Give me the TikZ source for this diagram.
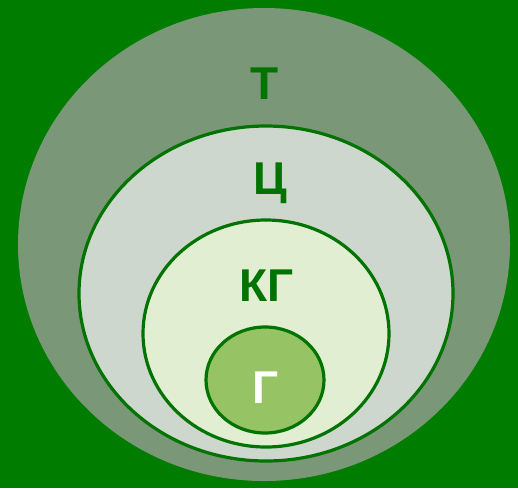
\documentclass[tikz,border=0pt]{standalone}
\usepackage{fontspec}
\setmainfont{Liberation Sans}
\usepackage{tikz}
\usetikzlibrary{shapes.geometric,positioning}
\definecolor{bggreen}{RGB}{0,125,0}
\definecolor{linegreen}{RGB}{0,115,0}
\definecolor{tfill}{RGB}{122,152,120}
\definecolor{cfill}{RGB}{205,215,205}
\definecolor{kgfill}{RGB}{226,238,210}
\definecolor{gfill}{RGB}{150,195,100}
\begin{document}
\begin{tikzpicture}[x=1pt,y=-1pt,
          set/.style={ellipse,inner sep=0pt,draw=linegreen,line width=3.2pt},
          setlabel/.style={font=\fontsize{46}{46}\selectfont\bfseries,
            text=linegreen,inner sep=0pt}]
          \fill[bggreen] (0,0) rectangle (518,488);
          \useasboundingbox (0,0) rectangle (518,488);
          \node[set,draw=none,fill=tfill,minimum width=492pt,minimum height=473pt] (t) at (264,244.5) {};
          \node[set,fill=cfill,minimum width=374pt,minimum height=335pt] (c) at (266,293.5) {};
          \node[set,fill=kgfill,minimum width=246pt,minimum height=227pt] (kg) at (266,333.5) {};
          \node[set,fill=gfill,minimum width=118pt,minimum height=106pt] (g) at (265,380) {};
          \node[setlabel] (tl) at (265,84) {Т};
          \node[setlabel] (cl) at (270,183) {Ц};
          \node[setlabel] (kgl) at (267,286) {КГ};
          \node[setlabel,text=white] (gl) at (266,388) {Г};
        \end{tikzpicture}
\end{document}
